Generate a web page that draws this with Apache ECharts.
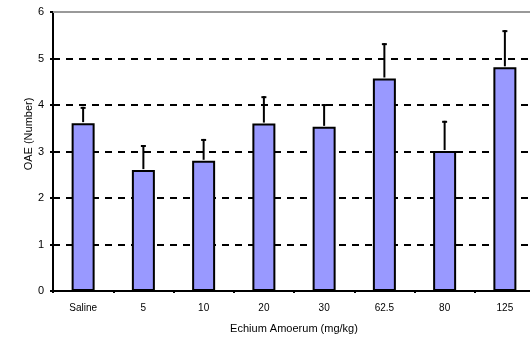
<!DOCTYPE html>
<html>
<head>
<meta charset="utf-8">
<script src="https://cdn.jsdelivr.net/npm/echarts@6/dist/echarts.min.js"></script>
<style>html,body{margin:0;padding:0;background:#fff}#c{width:530px;height:340px}</style>
</head>
<body>
<div id="c"></div>
<script>
var categories = ['Saline', '5', '10', '20', '30', '62.5', '80', '125'];
var means = [3.61, 2.60, 2.80, 3.60, 3.53, 4.57, 3.01, 4.81];
var errTops = [3.96, 3.14, 3.27, 4.19, 4.02, 5.33, 3.66, 5.61];
var yTicks = [0, 1, 2, 3, 4, 5, 6];
var yTitle = 'OAE (Number)';
var xTitle = 'Echium Amoerum (mg/kg)';

var chart = echarts.init(document.getElementById('c'));
var font = 'Liberation Sans, Arial, sans-serif';
chart.setOption({
  animation: false,
  grid: { left: 53, top: 12, width: 482, height: 279, outerBoundsMode: 'none', containLabel: false },
  graphic: [{
    type: 'text',
    x: 29, y: 134,
    rotation: Math.PI / 2,
    style: { text: yTitle, fill: '#000', font: '11px ' + font, align: 'center', verticalAlign: 'middle' }
  }],
  xAxis: [{
    type: 'category',
    data: categories,
    position: 'bottom',
    axisLine: { lineStyle: { color: '#000', width: 2 } },
    axisTick: { show: true, length: 2, lineStyle: { color: '#000', width: 2 } },
    axisLabel: { color: '#000', fontFamily: font, fontSize: 10, margin: 12 },
    name: xTitle,
    nameLocation: 'middle',
    nameGap: 32,
    nameTextStyle: { color: '#000', fontFamily: font, fontSize: 11 }
  }, {
    type: 'category',
    data: categories,
    position: 'top',
    axisLine: { lineStyle: { color: '#999', width: 2 } },
    axisTick: { show: false },
    axisLabel: { show: false }
  }],
  yAxis: {
    type: 'value',
    min: 0, max: 6, interval: 1,
    axisLine: { show: true, lineStyle: { color: '#000', width: 2 } },
    axisTick: { show: true, length: 3, lineStyle: { color: '#000', width: 2 } },
    axisLabel: { color: '#000', fontFamily: font, fontSize: 11, margin: 9,
      formatter: function (v) { return yTicks.indexOf(v) >= 0 ? String(v) : ''; } },
    splitLine: { show: true, lineStyle: { color: '#000', width: 2, type: [7, 6] } }
  },
  series: [{
    type: 'bar',
    data: means,
    barWidth: 23,
    itemStyle: { color: '#9999FF', borderColor: '#000', borderWidth: 2 },
    z: 3
  }, {
    type: 'custom',
    data: errTops.map(function (e, i) { return [i, means[i], e]; }),
    z: 4,
    renderItem: function (params, api) {
      var i = api.value(0);
      var p0 = api.coord([i, api.value(1)]);
      var p1 = api.coord([i, api.value(2)]);
      return {
        type: 'group',
        children: [{
          type: 'line',
          shape: { x1: p0[0], y1: p0[1] - 1, x2: p1[0], y2: p1[1] },
          style: { stroke: '#000', lineWidth: 2 }
        }, {
          type: 'line',
          shape: { x1: p1[0] - 2.5, y1: p1[1] + 1, x2: p1[0] + 2.5, y2: p1[1] + 1 },
          style: { stroke: '#000', lineWidth: 2 }
        }]
      };
    }
  }]
});
</script>
</body>
</html>
